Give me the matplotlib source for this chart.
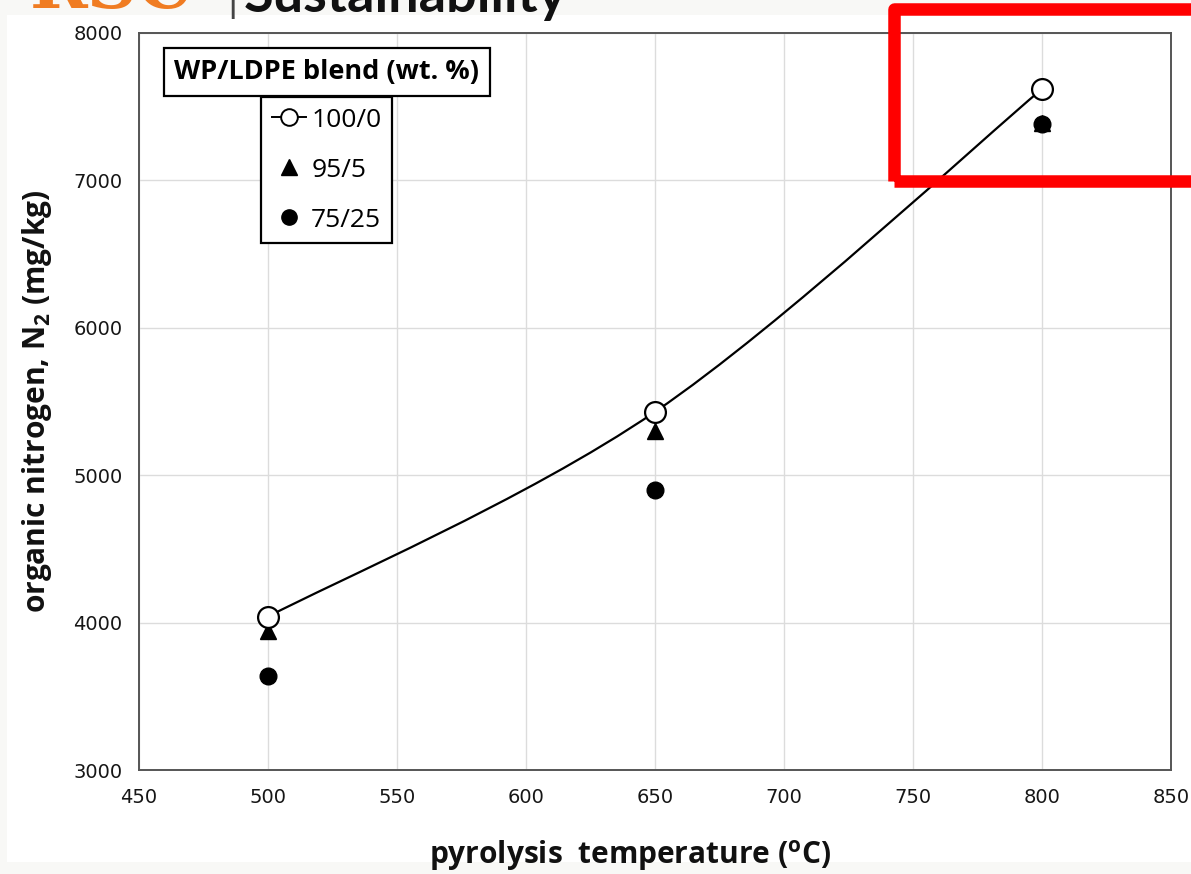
import numpy as np
import matplotlib
matplotlib.use("Agg")
import matplotlib.pyplot as plt
from matplotlib.path import Path
from matplotlib.patches import PathPatch, Rectangle
from matplotlib.lines import Line2D

# data
temps = [500, 650, 800]
n_100_0 = [4040, 5430, 7620]
n_95_5 = [3940, 5300, 7390]
n_75_25 = [3640, 4900, 7380]
blend_labels = ['100/0', '95/5', '75/25']
xticks = [450, 500, 550, 600, 650, 700, 750, 800, 850]
yticks = [3000, 4000, 5000, 6000, 7000, 8000]

W, H = 1191, 874
fig = plt.figure(figsize=(W / 100, H / 100), dpi=100, facecolor='white')

# off-white margins of the scanned page
for (x0, y0, w, h) in [(0, 0, W, 15), (0, 0, 7, H), (0, 862, W, H - 862)]:
    fig.patches.append(Rectangle((x0 / W, 1 - (y0 + h) / H), w / W, h / H,
                                 transform=fig.transFigure, facecolor='#f8f8f6',
                                 edgecolor='none', zorder=-5))

ax = fig.add_axes([139 / W, 1 - 770 / H, (1171 - 139) / W, (770 - 33) / H])
ax.set_xlim(450, 850)
ax.set_ylim(3000, 8000)
ax.set_xticks(xticks)
ax.set_yticks(yticks)
ax.grid(True, color='#dcdcdc', lw=1.0)
ax.set_axisbelow(True)
for s in ax.spines.values():
    s.set_color('#555555')
    s.set_linewidth(1.4)
ax.tick_params(length=0, labelsize=14, labelcolor='#161616')
ax.tick_params(axis='x', pad=13)
ax.tick_params(axis='y', pad=12)

# smoothed line (Excel style bezier through the 100/0 points)
pts = np.column_stack([temps, n_100_0]).astype(float)
ext = np.vstack([pts[0], pts, pts[-1]])
verts = [tuple(pts[0])]
codes = [Path.MOVETO]
for i in range(len(pts) - 1):
    p0, p1, p2, p3 = ext[i], ext[i + 1], ext[i + 2], ext[i + 3]
    c1 = p1 + (p2 - p0) / 6
    c2 = p2 - (p3 - p1) / 6
    verts += [tuple(c1), tuple(c2), tuple(p2)]
    codes += [Path.CURVE4] * 3
ax.add_patch(PathPatch(Path(verts, codes), facecolor='none', edgecolor='black',
                       lw=1.6, zorder=2))

ax.plot(temps, n_95_5, linestyle='none', marker='^', ms=12, color='black', zorder=3)
ax.plot(temps, n_75_25, linestyle='none', marker='o', ms=12, color='black', zorder=3)
ax.plot(temps, n_100_0, linestyle='none', marker='o', ms=15, mfc='white',
        mec='black', mew=1.6, zorder=4)

lab_font = dict(family='Open Sans', weight='bold', size=21.5, color='#111111')
ax.set_xlabel('pyrolysis  temperature ($\\mathregular{^oC}$)', **lab_font)
ax.xaxis.set_label_coords(0.476, -0.092)
ax.set_ylabel('organic nitrogen, N$\\mathregular{_2}$ (mg/kg)', labelpad=14, **lab_font)

# legend: title box and entries box
fig.text(327 / W, 1 - 72 / H, 'WP/LDPE blend (wt. %)', ha='center', va='center',
         family='Open Sans', weight='bold', size=19.5,
         bbox=dict(boxstyle='square,pad=0.4', facecolor='white',
                   edgecolor='black', lw=1.6))
handles = [
    Line2D([], [], color='black', lw=1.4, marker='o', ms=12, mfc='white', mew=1.4),
    Line2D([], [], linestyle='none', marker='^', ms=11, color='black'),
    Line2D([], [], linestyle='none', marker='o', ms=11, color='black'),
]
leg = fig.legend(handles, blend_labels, loc='upper left',
                 bbox_to_anchor=(261 / W, 1 - 97 / H), frameon=True,
                 fancybox=False, edgecolor='black', framealpha=1,
                 prop=dict(family='Open Sans', size=19), handlelength=1.3,
                 handletextpad=0.2, labelspacing=0.95, borderpad=0.4,
                 borderaxespad=0)
leg.get_frame().set_linewidth(1.6)

# cropped journal header at the top
fig.text(30 / W, 1 - 8 / H, 'RSC', ha='left', va='baseline', family='DejaVu Serif',
         weight='bold', size=50, color='#f07c22')
fig.text(227 / W, 1 - 12 / H, '|', ha='left', va='baseline', family='Lato',
         size=30, color='#444444')
fig.text(244 / W, 1 - 12 / H, 'Sustainability', ha='left', va='baseline',
         family='Lato', weight='bold', size=39, color='#111111')

# red highlight frame
fig.patches.append(Rectangle((894 / W, 1 - 181 / H), (1205 - 894) / W, (181 - 9) / H,
                             transform=fig.transFigure, facecolor='none',
                             edgecolor='#ff0000', lw=9, zorder=10,
                             joinstyle='round'))

fig.savefig('out.png', dpi=100, facecolor=fig.get_facecolor())
